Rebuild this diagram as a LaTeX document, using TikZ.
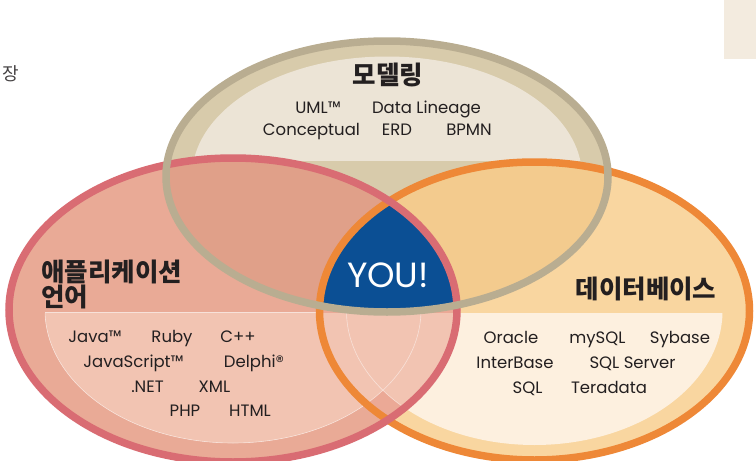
\documentclass[tikz,border=0pt]{standalone}
\usepackage{fontspec}
\setmainfont{Poppins}
\newfontfamily\kr{Noto Sans CJK KR}
\usepackage{xcolor}

\definecolor{ink}{HTML}{231F20}
\definecolor{tanline}{HTML}{B9AD91}
\definecolor{tanfill}{HTML}{D8CBAB}
\definecolor{tanlight}{HTML}{ECE4D6}
\definecolor{pinkline}{HTML}{D96C73}
\definecolor{pinkfill}{HTML}{E9AA96}
\definecolor{pinklight}{HTML}{F7E1D9}
\definecolor{pinkdark}{HTML}{E0A089}
\definecolor{orangeline}{HTML}{EE8837}
\definecolor{orangefill}{HTML}{F9D6A0}
\definecolor{orangelight}{HTML}{FDF0DF}
\definecolor{orangedark}{HTML}{F3CB8E}
\definecolor{mixfill}{HTML}{EBA996}
\definecolor{mixlight}{HTML}{F2C4B2}
\definecolor{youblue}{HTML}{0B4F94}
\definecolor{pagegrey}{HTML}{F3EBDF}

% ellipses: outer rings and inner light areas
\def\TopEll{(387,176.5) ellipse [x radius=221pt, y radius=135.5pt]}
\def\TopIn{(387,176.5) ellipse [x radius=195pt, y radius=120pt]}
\def\LeftEll{(233,310) ellipse [x radius=224pt, y radius=152pt]}
\def\LeftIn{(233,310) ellipse [x radius=188pt, y radius=133pt]}
\def\RightEll{(534.5,311) ellipse [x radius=215pt, y radius=149pt]}
\def\RightIn{(534.5,311) ellipse [x radius=188pt, y radius=134pt]}

\begin{document}
\begin{tikzpicture}[x=1pt, y=-1pt,
    word/.style={anchor=base, inner sep=0pt, text=ink, font=\fontsize{16.5}{16.5}\selectfont},
    head/.style={inner sep=0pt, text=ink, font=\kr\bfseries\fontsize{25.5}{21.5}\selectfont},
    ring/.style={line width=7.5pt}]
    \useasboundingbox (0,0) rectangle (756,461);
    % page bits
    \fill[pagegrey] (724,0) rectangle (756,59);
    \node[anchor=base west, inner sep=0pt, text=ink!85, font=\kr\fontsize{18}{18}\selectfont] (P1) at (2,80.5) {장};
    % fills
    \fill[tanfill] \TopEll;
    \begin{scope}
        \clip (0,0) rectangle (756,160);
        \fill[tanlight] \TopIn;
    \end{scope}
    \fill[pinkfill] \LeftEll;
    \fill[orangefill] \RightEll;
    \begin{scope}
        \clip (0,312) rectangle (756,461);
        \fill[pinklight] \LeftIn;
    \end{scope}
    \begin{scope}
        \clip (0,313) rectangle (756,461);
        \fill[orangelight] \RightIn;
    \end{scope}
    \begin{scope}
        \clip \LeftEll;
        \fill[mixfill] \RightEll;
        \clip (0,313) rectangle (756,461);
        \fill[mixlight] \LeftIn;
        \fill[mixlight] \RightIn;
        \draw[white, opacity=0.5, line width=0.6pt] \LeftIn \RightIn;
    \end{scope}
    \begin{scope}
        \clip \TopEll;
        \fill[pinkdark] \LeftEll;
        \fill[orangedark] \RightEll;
        \clip \LeftEll;
        \fill[youblue] \RightEll;
    \end{scope}
    % rings
    \draw[ring, orangeline] \RightEll;
    \draw[ring, pinkline] \LeftEll;
    \draw[ring, tanline] \TopEll;
    % headings
    \node[head] (H1) at (388,75) {모델링};
    \node[head, align=left, anchor=north west] (H2) at (41,259.5) {애플리케이션\\언어};
    \node[head] (H4) at (646,289) {데이터베이스};
    \node[anchor=base, inner sep=0pt, text=white, font=\fontsize{35}{35}\selectfont] (Y1) at (388,287) {YOU!};
    % modelling
    \foreach \x/\y/\t [count=\i] in {318/113/UML™, 426.5/113/Data Lineage,
        311.5/135/Conceptual, 397/135/ERD, 469/135/BPMN}
        \node[word] (M\i) at (\x,\y) {\t};
    % languages
    \foreach \x/\y/\t [count=\i] in {95/342/Java™, 172/342/Ruby, 238/342/C++,
        133.5/367/JavaScript™, 254/367/Delphi®, 147.5/392/.NET, 214.5/392/XML,
        185/416/PHP, 250/416/HTML}
        \node[word] (L\i) at (\x,\y) {\t};
    % databases
    \foreach \x/\y/\t [count=\i] in {511/343/Oracle, 597.5/343/mySQL, 680/343/Sybase,
        515/368/InterBase, 632.5/368/SQL Server, 527.5/393/SQL, 609/393/Teradata}
        \node[word] (D\i) at (\x,\y) {\t};
\end{tikzpicture}
\end{document}
